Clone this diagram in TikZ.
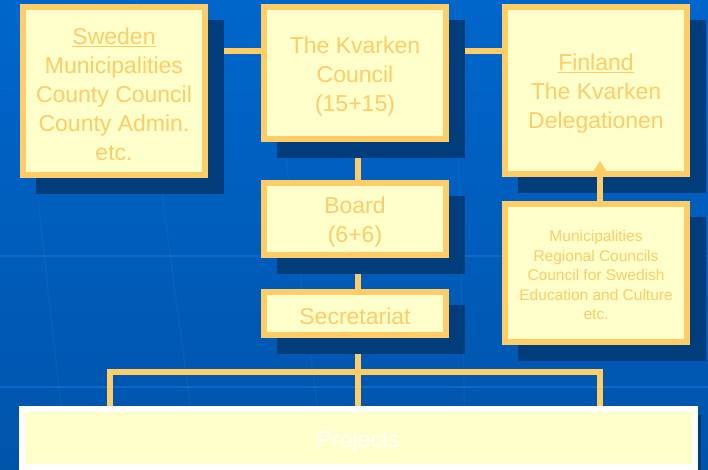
\documentclass[tikz,border=0pt]{standalone}
\usepackage{fontspec}
\setmainfont{Liberation Sans}
\usetikzlibrary{shadows,arrows.meta}

\definecolor{bluetop}{RGB}{0,102,204}
\definecolor{bluebot}{RGB}{0,84,170}
\definecolor{stripe}{RGB}{12,110,212}
\definecolor{navy}{RGB}{0,61,122}
\definecolor{gold}{RGB}{255,204,102}
\definecolor{cream}{RGB}{255,255,204}

\newcommand\lift{\rule{0pt}{1em}}

\pgfdeclarelayer{bg}
\pgfdeclarelayer{links}
\pgfsetlayers{bg,links,main}

\begin{document}
\begin{tikzpicture}[x=1pt,y=-1pt,
        org/.style={draw=gold,line width=6pt,fill=cream,text=gold,align=center,inner sep=0pt,
            font=\fontsize{23}{29}\selectfont,minimum width=182pt,
            drop shadow={shadow xshift=16pt,shadow yshift=-16pt,opacity=1,fill=navy,draw=navy,line width=6pt}},
        link/.style={draw=gold,line width=5.5pt}]
    \useasboundingbox (0,0) rectangle (708,470);
    \begin{pgfonlayer}{bg}
        \shade[top color=bluetop,bottom color=bluebot] (0,0) rectangle (708,470);
        \draw[stripe,line width=1.5pt,opacity=.8] (0,256) -- (708,256) (0,387) -- (708,387);
        \draw[white,line width=1.5pt,opacity=.035] (16,0) -- (68,470) (136,0) -- (199,470)
            (266,0) -- (325,470) (455,0) -- (466,470);
    \end{pgfonlayer}

    \node[org,minimum height=168pt] (sweden) at (114,91)
        {\lift\underline{Sweden}\\Municipalities\\County Council\\County Admin.\\etc.};
    \node[org,minimum height=132pt] (council) at (355,73) {\lift The Kvarken\\Council\\(15+15)};
    \node[org,minimum height=167pt] (finland) at (596,90.5)
        {\lift\underline{Finland}\\The Kvarken\\Delegationen};
    \node[org,minimum height=72pt] (board) at (355,219) {\lift Board\\(6+6)};
    \node[org,minimum height=43pt] (secretariat) at (355,313.5) {\lift Secretariat};
    \node[org,minimum height=138pt,font=\fontsize{15.5}{19.5}\selectfont] (munic) at (596,273)
        {\lift Municipalities\\Regional Councils\\Council for Swedish\\Education and Culture\\etc.};
    \node[draw=white,line width=6pt,fill=cream,text=white,inner sep=0pt,
        minimum width=673pt,minimum height=58pt,font=\fontsize{23}{29}\selectfont,
        drop shadow={shadow xshift=6pt,shadow yshift=-6pt,opacity=1,fill=navy}]
        (projects) at (358.5,438) {\lift Projects};

    \coordinate (toprow) at (0,51);
    \coordinate (spine) at (358,0);
    \coordinate (lft) at (110,372);
    \coordinate (rgt) at (600,372);
    \coordinate (tip) at (600,161);
    \begin{pgfonlayer}{links}
        \draw[link] (sweden.east |- toprow) -- (council.west |- toprow);
        \draw[link] (council.east |- toprow) -- (finland.west |- toprow);
        \draw[link] (council.south -| spine) -- (board.north -| spine);
        \draw[link] (board.south -| spine) -- (secretariat.north -| spine);
        \draw[link] (secretariat.south -| spine) -- (projects.north -| spine);
        \draw[link] (projects.north -| lft) -- (lft) -- (rgt) -- (projects.north -| rgt);
    \end{pgfonlayer}
    \draw[link,-{Triangle[length=12pt,width=15pt]}] (munic.north -| tip) -- (tip);
\end{tikzpicture}
\end{document}
